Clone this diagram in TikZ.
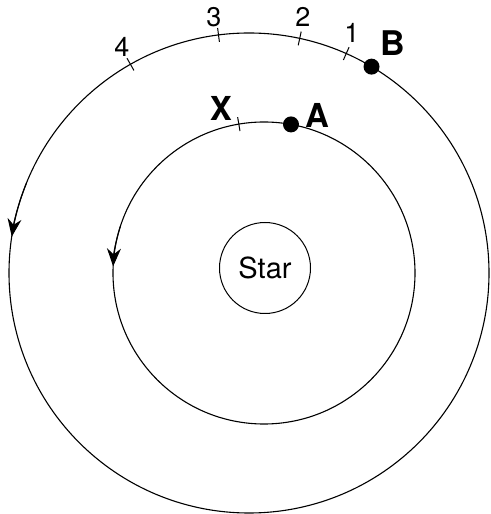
\documentclass[tikz,border=0pt]{standalone}
\usepackage{fontspec}
\setmainfont{TeX Gyre Heros}
\usetikzlibrary{arrows.meta}
\begin{document}
\begin{tikzpicture}[x=1pt,y=1pt,
  orbit/.style={line width=1.1pt},
  tickmark/.style={line width=1pt},
  lbl/.style={inner sep=0pt, font=\fontsize{27}{27}\selectfont},
  boldlbl/.style={inner sep=0pt, font=\fontsize{#1}{#1}\selectfont\bfseries},
  dot/.style={circle, fill=black, inner sep=0pt, minimum size=16pt},
  head/.style={-{Stealth[length=18pt,width=14pt,inset=6pt]}}]
\useasboundingbox (0,0) rectangle (490,514);
\coordinate (O1) at (249,241);
\coordinate (O2) at (264,241);
\draw[orbit] (O1) circle (240);
\draw[orbit] (O2) circle (151);
\node[draw, circle, minimum size=91pt, inner sep=0pt, line width=1pt,
      font=\fontsize{29}{29}\selectfont] (star) at (265,246) {Star};
% ticks on outer orbit
\foreach \a in {119.6,97.3,77.8,66.1}
  \draw[tickmark, shift={(O1)}] (\a:233) -- (\a:247);
% tick on inner orbit
\draw[tickmark, shift={(O2)}] (99.6:144) -- (99.6:158);
% dots
\path[shift={(O1)}] (59.3:240) node[dot] (B) {};
\path[shift={(O2)}] (79.7:151) node[dot] (A) {};
% labels
\node[lbl] (l4) at (122,467) {4};
\node[lbl] (l3) at (214,497) {3};
\node[lbl] (l2) at (303,497) {2};
\node[lbl] (l1) at (352,481) {1};
\node[boldlbl=34] (lB) at (393,471) {B};
\node[boldlbl=33] (lX) at (221,406) {X};
\node[boldlbl=33] (lA) at (317,399) {A};
% direction arrows
\draw[orbit, head, shift={(O1)}] (158:240) arc[start angle=158, end angle=171.3, radius=240];
\draw[orbit, head, shift={(O2)}] (162:151) arc[start angle=162, end angle=177.5, radius=151];
\end{tikzpicture}
\end{document}
